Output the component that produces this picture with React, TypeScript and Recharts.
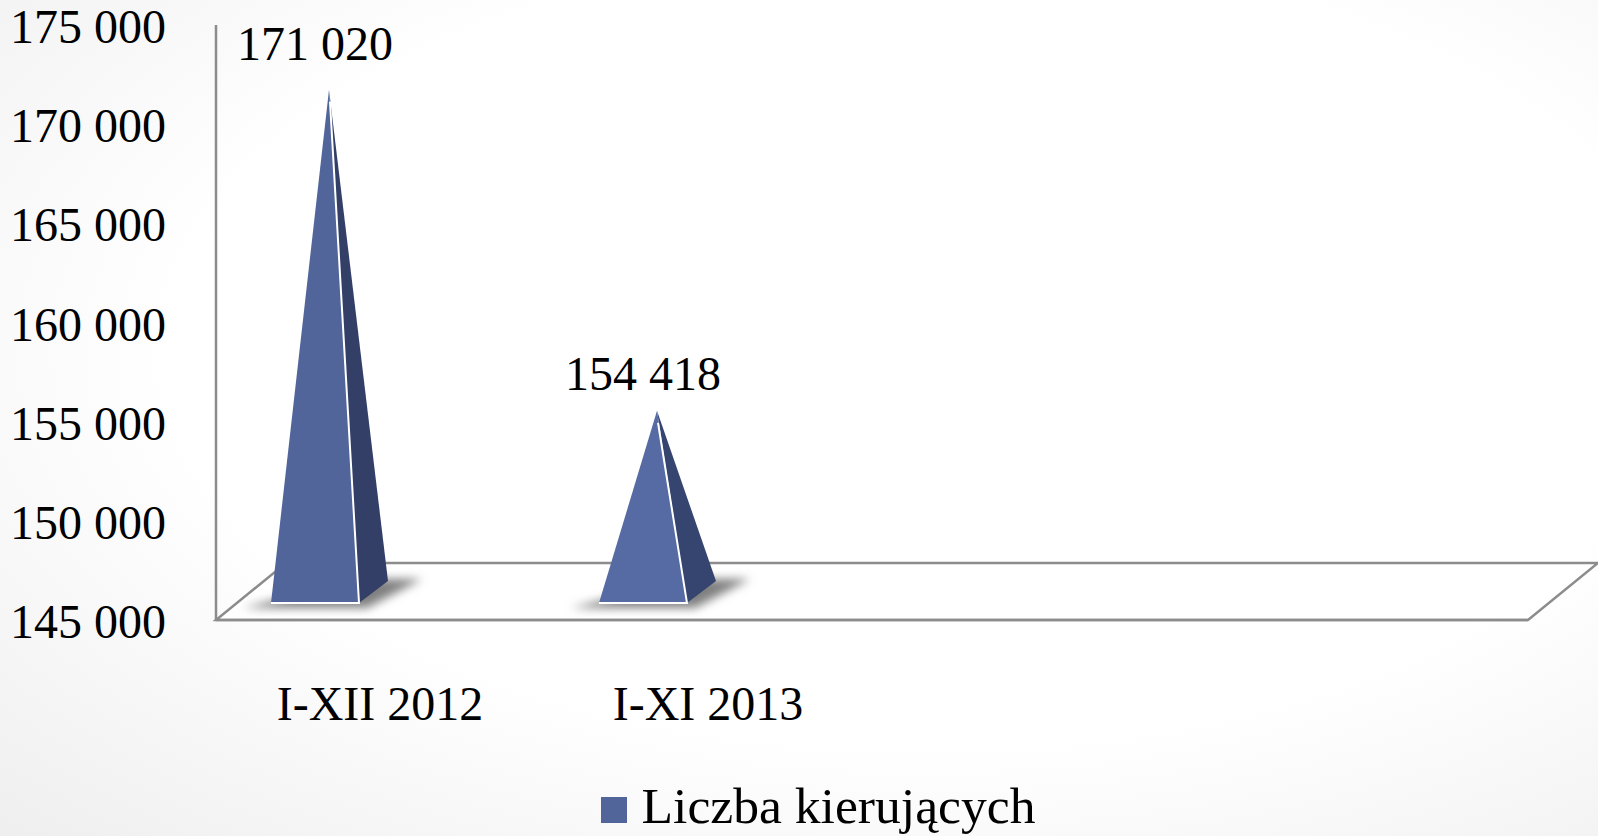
import React from 'react';
import {
  ComposedChart,
  Bar,
  Line,
  XAxis,
  YAxis,
  Legend,
  LabelList,
  ReferenceArea,
} from 'recharts';

const categories = ['I-XII 2012', 'I-XI 2013', ' ', '  '];
const drivers = [171020, 154418, null, null];
const yTicks = [145000, 150000, 155000, 160000, 165000, 170000, 175000];

const frontColors = ['#52659a', '#566ba3'];
const sideColors = ['#333f66', '#364570'];
const labelLift = [46, 37];

const data = categories.map((label, i) => ({ label, value: drivers[i] }));

const fontFamily = '"Liberation Serif", serif';
const axisGrey = '#8c8c8c';
const formatValue = (v: number) => String(v).replace(/\B(?=(\d{3})+$)/g, ' ');

// the floor of the 3D box, sheared back to the right
const Floor = ({ x, y, width, height }: any) => {
  const bottom = y + height;
  return (
    <polygon
      points={`${x},${bottom} ${x + width},${bottom} ${x + width + 70},${y} ${x + 70},${y}`}
      fill="#ffffff"
      stroke={axisGrey}
      strokeWidth={2.5}
    />
  );
};

const Pyramid = ({ x, y, width, height, index }: any) => {
  if (!height) return null;
  const left = x - 65;
  const right = left + width;
  const base = y + height - 17;
  const tipX = left + width / 2 + 14;
  const backX = right + 29;
  const backY = base - 22;
  return (
    <g>
      <defs>
        <filter id={`blur-${index}`} x="-30%" y="-60%" width="160%" height="220%">
          <feGaussianBlur stdDeviation="5" />
        </filter>
      </defs>
      <polygon
        points={`${left - 28},${base + 5} ${right + 8},${base + 5} ${backX + 34},${backY - 2} ${right},${backY - 2}`}
        fill="#808080"
        filter={`url(#blur-${index})`}
      />
      <polygon points={`${tipX},${y} ${right},${base} ${backX},${backY}`} fill={sideColors[index]} />
      <polygon points={`${tipX},${y} ${left},${base} ${right},${base}`} fill={frontColors[index]} />
      <polyline
        points={`${tipX + 1},${y + 12} ${right},${base} ${left},${base}`}
        fill="none"
        stroke="#ffffff"
        strokeWidth={2}
      />
    </g>
  );
};

const PeakLabel = ({ x, y, width, value, index }: any) => {
  if (value == null) return null;
  return (
    <text
      x={x - 65 + width / 2}
      y={y - labelLift[index]}
      textAnchor="middle"
      dominantBaseline="central"
      fontFamily={fontFamily}
      fontSize={48}
      fill="#000000"
    >
      {formatValue(value)}
    </text>
  );
};

export default function App() {
  return (
    <div
      style={{
        position: 'absolute',
        left: 0,
        top: 0,
        width: 1598,
        height: 836,
        overflow: 'hidden',
        background: 'radial-gradient(ellipse 85% 85% at 58% 42%, #ffffff 55%, #ededed 100%)',
      }}
    >
      <ComposedChart
        width={1598}
        height={836}
        data={data}
        barSize={88}
        margin={{ top: 25, right: 70, bottom: 0, left: 0 }}
        style={{ fontFamily }}
      >
        <XAxis
          dataKey="label"
          height={216}
          axisLine={{ stroke: axisGrey, strokeWidth: 2.5 }}
          tickLine={false}
          tickMargin={60}
          interval={0}
          tick={{ fontSize: 48, fill: '#000000', fontFamily }}
        />
        <YAxis
          width={216}
          domain={[145000, 175000]}
          ticks={yTicks}
          interval={0}
          tickFormatter={formatValue}
          axisLine={{ stroke: axisGrey, strokeWidth: 2.5 }}
          tickLine={false}
          tickMargin={44}
          tick={{ fontSize: 48, fill: '#000000', fontFamily, dy: 1 }}
        />
        {/* the pyramids sit in depth, so they get their own compressed value scale */}
        <YAxis yAxisId="depth" hide width={0} domain={[143602, 174362]} />
        <ReferenceArea y1={145000} y2={147875} ifOverflow="visible" shape={<Floor />} />
        <Legend
          verticalAlign="middle"
          iconType="square"
          iconSize={26}
          wrapperStyle={{ position: 'absolute', left: 573, top: 767, width: 500, height: 69, bottom: 'auto' }}
          formatter={(v: string) => (
            <span style={{ color: '#000000', fontSize: 51.6, fontFamily, marginLeft: 11, position: 'relative', top: 9 }}>
              {v}
            </span>
          )}
        />
        {/* keeps the visible axis tied to the data */}
        <Line
          dataKey="value"
          stroke="none"
          dot={false}
          activeDot={false}
          legendType="none"
          isAnimationActive={false}
        />
        <Bar
          yAxisId="depth"
          dataKey="value"
          name="Liczba kierujących"
          fill="#52659a"
          isAnimationActive={false}
          shape={<Pyramid />}
        >
          <LabelList dataKey="value" content={<PeakLabel />} />
        </Bar>
      </ComposedChart>
    </div>
  );
}
